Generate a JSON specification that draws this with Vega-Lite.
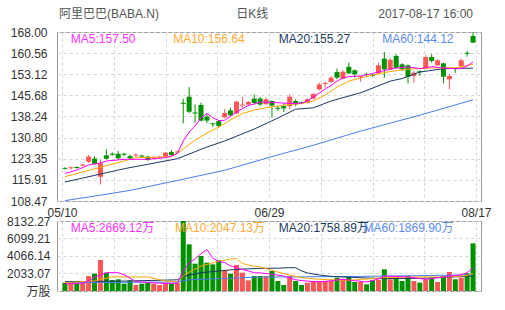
{
  "$schema": "https://vega.github.io/schema/vega-lite/v6.json",
  "padding": 0,
  "spacing": 20,
  "bounds": "flush",
  "background": "white",
  "datasets": {
    "k": [
      {"i":0,"d":"2017-05-10","o":120.1,"h":120.4,"l":119.6,"c":119.8,"v":964},
      {"i":1,"d":"2017-05-11","o":120.0,"h":120.6,"l":119.4,"c":120.35,"v":848},
      {"i":2,"d":"2017-05-12","o":120.45,"h":120.7,"l":119.9,"c":120.1,"v":848},
      {"i":3,"d":"2017-05-15","o":120.95,"h":121.6,"l":120.7,"c":121.3,"v":964},
      {"i":4,"d":"2017-05-16","o":122.3,"h":124.7,"l":121.9,"c":124.1,"v":1743},
      {"i":5,"d":"2017-05-17","o":123.4,"h":124.3,"l":121.3,"c":121.6,"v":2014},
      {"i":6,"d":"2017-05-18","o":117.0,"h":122.9,"l":114.3,"c":121.75,"v":3602},
      {"i":7,"d":"2017-05-19","o":124.55,"h":126.7,"l":123.1,"c":123.35,"v":2130},
      {"i":8,"d":"2017-05-22","o":125.15,"h":125.6,"l":124.4,"c":124.8,"v":1278},
      {"i":9,"d":"2017-05-23","o":125.1,"h":126.1,"l":123.2,"c":123.5,"v":1356},
      {"i":10,"d":"2017-05-24","o":125.1,"h":125.5,"l":124.3,"c":124.75,"v":848},
      {"i":11,"d":"2017-05-25","o":124.3,"h":124.8,"l":123.2,"c":123.5,"v":1240},
      {"i":12,"d":"2017-05-26","o":124.4,"h":125.3,"l":124.0,"c":124.75,"v":697},
      {"i":13,"d":"2017-05-30","o":124.45,"h":124.8,"l":123.8,"c":124.1,"v":848},
      {"i":14,"d":"2017-05-31","o":124.1,"h":124.4,"l":122.6,"c":122.9,"v":964},
      {"i":15,"d":"2017-06-01","o":123.55,"h":124.1,"l":123.3,"c":123.9,"v":848},
      {"i":16,"d":"2017-06-02","o":123.8,"h":124.4,"l":123.6,"c":124.15,"v":697},
      {"i":17,"d":"2017-06-05","o":124.05,"h":125.8,"l":123.9,"c":125.5,"v":964},
      {"i":18,"d":"2017-06-06","o":125.7,"h":126.4,"l":124.4,"c":124.65,"v":848},
      {"i":19,"d":"2017-06-07","o":125.55,"h":126.2,"l":125.3,"c":125.9,"v":964},
      {"i":20,"d":"2017-06-08","o":143.05,"h":144.5,"l":135.8,"c":142.7,"v":8132},
      {"i":21,"d":"2017-06-09","o":145.2,"h":148.6,"l":139.4,"c":139.9,"v":5422},
      {"i":22,"d":"2017-06-12","o":139.65,"h":142.5,"l":136.0,"c":139.3,"v":3175},
      {"i":23,"d":"2017-06-13","o":142.3,"h":143.1,"l":136.5,"c":136.8,"v":4066},
      {"i":24,"d":"2017-06-14","o":138.2,"h":139.2,"l":135.9,"c":136.8,"v":3292},
      {"i":25,"d":"2017-06-15","o":135.85,"h":136.0,"l":134.6,"c":135.5,"v":3098},
      {"i":26,"d":"2017-06-16","o":136.6,"h":137.0,"l":134.3,"c":134.9,"v":3563},
      {"i":27,"d":"2017-06-19","o":137.95,"h":140.8,"l":137.7,"c":139.45,"v":2440},
      {"i":28,"d":"2017-06-20","o":140.4,"h":141.3,"l":138.4,"c":138.65,"v":2014},
      {"i":29,"d":"2017-06-21","o":139.35,"h":143.7,"l":139.1,"c":143.45,"v":3021},
      {"i":30,"d":"2017-06-22","o":142.1,"h":145.1,"l":141.3,"c":142.45,"v":2130},
      {"i":31,"d":"2017-06-23","o":142.45,"h":143.7,"l":142.2,"c":143.35,"v":1240},
      {"i":32,"d":"2017-06-26","o":144.55,"h":146.0,"l":142.5,"c":143.0,"v":1743},
      {"i":33,"d":"2017-06-27","o":144.55,"h":145.1,"l":141.9,"c":142.45,"v":1743},
      {"i":34,"d":"2017-06-28","o":142.6,"h":144.85,"l":142.3,"c":144.3,"v":1743},
      {"i":35,"d":"2017-06-29","o":143.7,"h":144.0,"l":137.8,"c":142.1,"v":2324},
      {"i":36,"d":"2017-06-30","o":141.3,"h":142.0,"l":140.2,"c":140.95,"v":1162},
      {"i":37,"d":"2017-07-03","o":141.9,"h":142.9,"l":139.8,"c":141.1,"v":697},
      {"i":38,"d":"2017-07-05","o":141.9,"h":146.05,"l":140.8,"c":145.2,"v":1743},
      {"i":39,"d":"2017-07-06","o":143.7,"h":144.3,"l":141.9,"c":142.5,"v":1162},
      {"i":40,"d":"2017-07-07","o":143.25,"h":143.5,"l":142.6,"c":142.9,"v":697},
      {"i":41,"d":"2017-07-10","o":143.1,"h":144.6,"l":142.8,"c":144.3,"v":968},
      {"i":42,"d":"2017-07-11","o":144.55,"h":146.6,"l":144.3,"c":146.15,"v":1162},
      {"i":43,"d":"2017-07-12","o":147.8,"h":150.15,"l":147.45,"c":149.55,"v":1162},
      {"i":44,"d":"2017-07-13","o":149.75,"h":150.4,"l":148.4,"c":150.1,"v":1162},
      {"i":45,"d":"2017-07-14","o":150.4,"h":152.5,"l":150.15,"c":151.9,"v":1162},
      {"i":46,"d":"2017-07-17","o":153.9,"h":155.1,"l":151.35,"c":151.9,"v":1549},
      {"i":47,"d":"2017-07-18","o":151.55,"h":154.5,"l":151.35,"c":154.0,"v":1433},
      {"i":48,"d":"2017-07-19","o":155.75,"h":157.2,"l":153.1,"c":153.45,"v":1627},
      {"i":49,"d":"2017-07-20","o":154.5,"h":154.85,"l":151.9,"c":153.1,"v":1046},
      {"i":50,"d":"2017-07-21","o":152.05,"h":152.5,"l":150.5,"c":152.4,"v":1046},
      {"i":51,"d":"2017-07-24","o":153.25,"h":153.65,"l":152.25,"c":152.9,"v":775},
      {"i":52,"d":"2017-07-25","o":152.95,"h":153.2,"l":152.2,"c":152.6,"v":1240},
      {"i":53,"d":"2017-07-26","o":153.45,"h":157.2,"l":153.1,"c":156.25,"v":1300},
      {"i":54,"d":"2017-07-27","o":158.6,"h":160.95,"l":151.9,"c":154.85,"v":2518},
      {"i":55,"d":"2017-07-28","o":154.85,"h":158.85,"l":154.6,"c":158.15,"v":1356},
      {"i":56,"d":"2017-07-31","o":159.55,"h":160.15,"l":154.95,"c":155.4,"v":1549},
      {"i":57,"d":"2017-08-01","o":156.6,"h":157.0,"l":154.25,"c":154.85,"v":1162},
      {"i":58,"d":"2017-08-02","o":156.25,"h":156.6,"l":149.9,"c":152.25,"v":1743},
      {"i":59,"d":"2017-08-03","o":152.5,"h":154.25,"l":150.15,"c":153.65,"v":1162},
      {"i":60,"d":"2017-08-04","o":154.2,"h":154.5,"l":152.5,"c":153.85,"v":968},
      {"i":61,"d":"2017-08-07","o":155.2,"h":159.8,"l":154.85,"c":159.2,"v":1356},
      {"i":62,"d":"2017-08-08","o":159.2,"h":160.15,"l":157.2,"c":157.8,"v":1549},
      {"i":63,"d":"2017-08-09","o":156.25,"h":158.4,"l":156.0,"c":158.05,"v":1046},
      {"i":64,"d":"2017-08-10","o":156.95,"h":157.2,"l":149.9,"c":152.25,"v":1743},
      {"i":65,"d":"2017-08-11","o":151.35,"h":153.1,"l":147.8,"c":152.5,"v":2208},
      {"i":66,"d":"2017-08-14","o":155.25,"h":155.5,"l":153.6,"c":154.9,"v":1356},
      {"i":67,"d":"2017-08-15","o":156.0,"h":158.7,"l":154.85,"c":158.05,"v":1549},
      {"i":68,"d":"2017-08-16","o":160.65,"h":161.3,"l":159.3,"c":160.3,"v":2053},
      {"i":69,"d":"2017-08-17","o":166.6,"h":168.0,"l":164.2,"c":164.25,"v":5538}
    ],
    "pma": [
      {"s":"MA60","i":0,"m":108.6},{"s":"MA60","i":5,"m":110.2},{"s":"MA60","i":11,"m":112.2},{"s":"MA60","i":19,"m":115.7},{"s":"MA60","i":27,"m":119.3},{"s":"MA60","i":36,"m":124.7},{"s":"MA60","i":42,"m":128.1},{"s":"MA60","i":50,"m":133.1},{"s":"MA60","i":60,"m":138.7},{"s":"MA60","i":69,"m":144.12},
      {"s":"MA20","i":0,"m":115.15},{"s":"MA20","i":10,"m":119.84},{"s":"MA20","i":19,"m":123.36},{"s":"MA20","i":24,"m":127.48},{"s":"MA20","i":27,"m":129.6},{"s":"MA20","i":32,"m":133.8},{"s":"MA20","i":36,"m":137.7},{"s":"MA20","i":39,"m":140.8},{"s":"MA20","i":42,"m":141.3},{"s":"MA20","i":45,"m":143.7},{"s":"MA20","i":50,"m":146.6},{"s":"MA20","i":55,"m":150.7},{"s":"MA20","i":57,"m":151.6},{"s":"MA20","i":60,"m":153.9},{"s":"MA20","i":64,"m":155.07},{"s":"MA20","i":69,"m":155.27},
      {"s":"MA10","i":0,"m":117.02},{"s":"MA10","i":5,"m":119.8},{"s":"MA10","i":10,"m":122.55},{"s":"MA10","i":12,"m":123.72},{"s":"MA10","i":18,"m":124.07},{"s":"MA10","i":19,"m":125.37},{"s":"MA10","i":20,"m":126.8},{"s":"MA10","i":22,"m":129.9},{"s":"MA10","i":24,"m":132.4},{"s":"MA10","i":26,"m":134.5},{"s":"MA10","i":28,"m":137.0},{"s":"MA10","i":30,"m":139.3},{"s":"MA10","i":32,"m":140.5},{"s":"MA10","i":34,"m":141.3},{"s":"MA10","i":36,"m":141.9},{"s":"MA10","i":38,"m":142.5},{"s":"MA10","i":40,"m":142.8},{"s":"MA10","i":42,"m":143.7},{"s":"MA10","i":44,"m":145.8},{"s":"MA10","i":46,"m":148.6},{"s":"MA10","i":48,"m":150.7},{"s":"MA10","i":50,"m":151.8},{"s":"MA10","i":52,"m":152.8},{"s":"MA10","i":54,"m":153.7},{"s":"MA10","i":56,"m":154.4},{"s":"MA10","i":58,"m":154.9},{"s":"MA10","i":60,"m":155.1},{"s":"MA10","i":62,"m":155.3},{"s":"MA10","i":64,"m":155.42},{"s":"MA10","i":66,"m":155.42},{"s":"MA10","i":67,"m":155.7},{"s":"MA10","i":68,"m":156.2},{"s":"MA10","i":69,"m":156.64},
      {"s":"MA5","i":0,"m":118.15},{"s":"MA5","i":2,"m":119.38},{"s":"MA5","i":4,"m":121.14},{"s":"MA5","i":6,"m":121.85},{"s":"MA5","i":7,"m":122.55},{"s":"MA5","i":10,"m":123.15},{"s":"MA5","i":14,"m":123.15},{"s":"MA5","i":17,"m":123.72},{"s":"MA5","i":18,"m":124.31},{"s":"MA5","i":19,"m":125.2},{"s":"MA5","i":20,"m":129.6},{"s":"MA5","i":21,"m":132.77},{"s":"MA5","i":22,"m":134.88},{"s":"MA5","i":23,"m":137.7},{"s":"MA5","i":24,"m":139.3},{"s":"MA5","i":25,"m":137.8},{"s":"MA5","i":26,"m":136.8},{"s":"MA5","i":27,"m":136.9},{"s":"MA5","i":28,"m":138.4},{"s":"MA5","i":29,"m":139.8},{"s":"MA5","i":30,"m":141.0},{"s":"MA5","i":31,"m":142.1},{"s":"MA5","i":32,"m":142.6},{"s":"MA5","i":33,"m":143.3},{"s":"MA5","i":34,"m":143.3},{"s":"MA5","i":35,"m":143.2},{"s":"MA5","i":36,"m":143.1},{"s":"MA5","i":38,"m":142.8},{"s":"MA5","i":40,"m":142.9},{"s":"MA5","i":41,"m":143.7},{"s":"MA5","i":42,"m":145.1},{"s":"MA5","i":43,"m":146.5},{"s":"MA5","i":44,"m":147.9},{"s":"MA5","i":45,"m":149.2},{"s":"MA5","i":46,"m":150.7},{"s":"MA5","i":47,"m":151.8},{"s":"MA5","i":48,"m":152.3},{"s":"MA5","i":50,"m":152.5},{"s":"MA5","i":52,"m":153.4},{"s":"MA5","i":54,"m":154.4},{"s":"MA5","i":56,"m":155.3},{"s":"MA5","i":58,"m":155.7},{"s":"MA5","i":60,"m":155.1},{"s":"MA5","i":62,"m":155.8},{"s":"MA5","i":64,"m":155.3},{"s":"MA5","i":66,"m":155.1},{"s":"MA5","i":67,"m":155.1},{"s":"MA5","i":68,"m":156.0},{"s":"MA5","i":69,"m":157.5}
    ],
    "vma": [
      {"s":"MA60","i":0,"m":968},{"s":"MA60","i":19,"m":1046},{"s":"MA60","i":20,"m":1180},{"s":"MA60","i":21,"m":1300},{"s":"MA60","i":32,"m":1600},{"s":"MA60","i":50,"m":1700},{"s":"MA60","i":69,"m":1870},
      {"s":"MA20","i":0,"m":1085},{"s":"MA20","i":10,"m":1150},{"s":"MA20","i":19,"m":1300},{"s":"MA20","i":20,"m":1700},{"s":"MA20","i":23,"m":2130},{"s":"MA20","i":29,"m":2518},{"s":"MA20","i":33,"m":2634},{"s":"MA20","i":36,"m":2650},{"s":"MA20","i":38,"m":2712},{"s":"MA20","i":39,"m":2700},{"s":"MA20","i":40,"m":2330},{"s":"MA20","i":41,"m":2100},{"s":"MA20","i":43,"m":1859},{"s":"MA20","i":45,"m":1700},{"s":"MA20","i":48,"m":1600},{"s":"MA20","i":54,"m":1433},{"s":"MA20","i":60,"m":1480},{"s":"MA20","i":65,"m":1600},{"s":"MA20","i":69,"m":1759},
      {"s":"MA10","i":0,"m":968},{"s":"MA10","i":5,"m":1162},{"s":"MA10","i":8,"m":1650},{"s":"MA10","i":14,"m":1627},{"s":"MA10","i":17,"m":1162},{"s":"MA10","i":19,"m":1046},{"s":"MA10","i":20,"m":1750},{"s":"MA10","i":21,"m":2200},{"s":"MA10","i":23,"m":2905},{"s":"MA10","i":26,"m":3450},{"s":"MA10","i":28,"m":3700},{"s":"MA10","i":29,"m":3796},{"s":"MA10","i":30,"m":3200},{"s":"MA10","i":31,"m":3000},{"s":"MA10","i":33,"m":2800},{"s":"MA10","i":35,"m":2400},{"s":"MA10","i":37,"m":2014},{"s":"MA10","i":40,"m":1549},{"s":"MA10","i":43,"m":1356},{"s":"MA10","i":48,"m":1240},{"s":"MA10","i":54,"m":1549},{"s":"MA10","i":59,"m":1627},{"s":"MA10","i":65,"m":1627},{"s":"MA10","i":68,"m":1800},{"s":"MA10","i":69,"m":2047},
      {"s":"MA5","i":0,"m":848},{"s":"MA5","i":3,"m":900},{"s":"MA5","i":4,"m":1162},{"s":"MA5","i":5,"m":1600},{"s":"MA5","i":7,"m":2130},{"s":"MA5","i":9,"m":2130},{"s":"MA5","i":10,"m":1900},{"s":"MA5","i":11,"m":1500},{"s":"MA5","i":12,"m":1085},{"s":"MA5","i":14,"m":1000},{"s":"MA5","i":16,"m":900},{"s":"MA5","i":18,"m":880},{"s":"MA5","i":19,"m":900},{"s":"MA5","i":20,"m":2321},{"s":"MA5","i":21,"m":3266},{"s":"MA5","i":22,"m":3708},{"s":"MA5","i":23,"m":4352},{"s":"MA5","i":24,"m":4817},{"s":"MA5","i":25,"m":3811},{"s":"MA5","i":26,"m":3439},{"s":"MA5","i":27,"m":3300},{"s":"MA5","i":28,"m":2905},{"s":"MA5","i":29,"m":2700},{"s":"MA5","i":30,"m":2500},{"s":"MA5","i":31,"m":2324},{"s":"MA5","i":32,"m":2130},{"s":"MA5","i":33,"m":2100},{"s":"MA5","i":35,"m":1937},{"s":"MA5","i":37,"m":1743},{"s":"MA5","i":39,"m":1300},{"s":"MA5","i":41,"m":1150},{"s":"MA5","i":43,"m":1046},{"s":"MA5","i":45,"m":1200},{"s":"MA5","i":47,"m":1356},{"s":"MA5","i":49,"m":1200},{"s":"MA5","i":51,"m":1046},{"s":"MA5","i":53,"m":1400},{"s":"MA5","i":54,"m":1743},{"s":"MA5","i":58,"m":1627},{"s":"MA5","i":61,"m":1356},{"s":"MA5","i":64,"m":1627},{"s":"MA5","i":67,"m":1900},{"s":"MA5","i":68,"m":2130},{"s":"MA5","i":69,"m":2669}
    ],
    "one": [{}]
  },
  "vconcat": [
    {
      "width": 424,
      "height": 169,
      "resolve": {"axis": {"x": "independent", "y": "independent"}},
      "layer": [
        {
          "data": {"name": "k"},
          "mark": {"type": "rule", "strokeWidth": 1},
          "encoding": {
            "x": {"field": "i", "type": "quantitative", "title": null,
              "scale": {"domain": [-0.5, 69.5], "nice": false, "zero": false},
              "axis": {"orient": "bottom", "values": [-0.5, 8.25, 17, 25.75, 34.5, 43.25, 52, 60.75, 69.5],
                "labelExpr": "datum.value == -0.5 ? '05/10' : datum.value == 34.5 ? '06/29' : datum.value == 69.5 ? '08/17' : ''",
                "labelFlush": true, "labelOverlap": false, "grid": true, "labelPadding": 6, "minExtent": 20, "maxExtent": 20}},
            "y": {"field": "l", "type": "quantitative", "title": null,
              "scale": {"domain": [108.47, 168], "nice": false, "zero": false},
              "axis": {"values": [108.47, 115.91, 123.35, 130.8, 138.24, 145.68, 153.12, 160.56, 168.0], "format": ".2f",
                "grid": true, "labelPadding": 10, "minExtent": 56, "maxExtent": 56, "labelOverlap": false}},
            "y2": {"field": "h"},
            "color": {"condition": {"test": "datum.c >= datum.o", "value": "#ff5555"}, "value": "#009100"}
          }
        },
        {
          "data": {"name": "k"},
          "mark": {"type": "bar", "size": 5},
          "encoding": {
            "x": {"field": "i", "type": "quantitative", "title": null, "axis": null,
              "scale": {"domain": [-0.5, 69.5], "nice": false, "zero": false}},
            "y": {"field": "o", "type": "quantitative", "title": null, "axis": null,
              "scale": {"domain": [108.47, 168], "nice": false, "zero": false}},
            "y2": {"field": "c"},
            "color": {"condition": {"test": "datum.c >= datum.o", "value": "#ff5555"}, "value": "#009100"}
          }
        },
        {
          "data": {"name": "pma"},
          "mark": {"type": "line", "strokeWidth": 1},
          "encoding": {
            "x": {"field": "i", "type": "quantitative", "title": null,
              "scale": {"domain": [-0.5, 69.5], "nice": false, "zero": false},
              "axis": {"orient": "top", "values": [7.35, 31.6, 60.9],
                "labelExpr": "datum.value < 20 ? '阿里巴巴(BABA.N)' : datum.value < 50 ? '日K线' : '2017-08-17 16:00'",
                "labelFlush": false, "labelOverlap": false, "grid": false, "labelPadding": 12, "labelColor": "#555555",
                "minExtent": 31, "maxExtent": 31}},
            "y": {"field": "m", "type": "quantitative", "title": null, "axis": null,
              "scale": {"domain": [108.47, 168], "nice": false, "zero": false}},
            "color": {"field": "s", "type": "nominal", "legend": null,
              "scale": {"domain": ["MA5", "MA10", "MA20", "MA60"], "range": ["#ff00ff", "#ffa500", "#1a3a60", "#4a7ef2"]}},
            "order": {"field": "i", "type": "quantitative"}
          }
        },
        {
          "data": {"name": "one"},
          "mark": {"type": "text", "align": "left", "baseline": "middle", "fontSize": 12, "color": "#ff33ff"},
          "encoding": {
            "x": {"datum": 0.99, "type": "quantitative", "axis": null, "scale": {"domain": [-0.5, 69.5], "nice": false, "zero": false}},
            "y": {"datum": 165.7, "type": "quantitative", "axis": null, "scale": {"domain": [108.47, 168], "nice": false, "zero": false}},
            "text": {"value": "MA5:157.50"}
          }
        },
        {
          "data": {"name": "one"},
          "mark": {"type": "text", "align": "left", "baseline": "middle", "fontSize": 12, "color": "#ffaa33"},
          "encoding": {
            "x": {"datum": 18.3, "type": "quantitative", "axis": null, "scale": {"domain": [-0.5, 69.5], "nice": false, "zero": false}},
            "y": {"datum": 165.7, "type": "quantitative", "axis": null, "scale": {"domain": [108.47, 168], "nice": false, "zero": false}},
            "text": {"value": "MA10:156.64"}
          }
        },
        {
          "data": {"name": "one"},
          "mark": {"type": "text", "align": "left", "baseline": "middle", "fontSize": 12, "color": "#1a3a60"},
          "encoding": {
            "x": {"datum": 36.15, "type": "quantitative", "axis": null, "scale": {"domain": [-0.5, 69.5], "nice": false, "zero": false}},
            "y": {"datum": 165.7, "type": "quantitative", "axis": null, "scale": {"domain": [108.47, 168], "nice": false, "zero": false}},
            "text": {"value": "MA20:155.27"}
          }
        },
        {
          "data": {"name": "one"},
          "mark": {"type": "text", "align": "right", "baseline": "middle", "fontSize": 12, "color": "#5b8cf2"},
          "encoding": {
            "x": {"datum": 65.7, "type": "quantitative", "axis": null, "scale": {"domain": [-0.5, 69.5], "nice": false, "zero": false}},
            "y": {"datum": 165.7, "type": "quantitative", "axis": null, "scale": {"domain": [108.47, 168], "nice": false, "zero": false}},
            "text": {"value": "MA60:144.12"}
          }
        }
      ]
    },
    {
      "width": 424,
      "height": 70,
      "resolve": {"axis": {"x": "independent", "y": "independent"}},
      "layer": [
        {
          "data": {"name": "k"},
          "mark": {"type": "bar", "size": 5},
          "encoding": {
            "x": {"field": "i", "type": "quantitative", "title": null,
              "scale": {"domain": [-0.5, 69.5], "nice": false, "zero": false},
              "axis": {"values": [-0.5, 8.25, 17, 25.75, 34.5, 43.25, 52, 60.75, 69.5], "labels": false, "grid": true, "minExtent": 0, "maxExtent": 0}},
            "y": {"field": "v", "type": "quantitative", "title": null,
              "scale": {"domain": [0, 8132.27], "nice": false},
              "axis": {"values": [0, 2033.07, 4066.14, 6099.21, 8132.27],
                "labelExpr": "datum.value == 0 ? '万股' : format(datum.value, '.2f')",
                "grid": true, "labelPadding": 7, "minExtent": 56, "maxExtent": 56, "labelOverlap": false}},
            "color": {"condition": {"test": "datum.c >= datum.o", "value": "#ff5555"}, "value": "#009100"}
          }
        },
        {
          "data": {"name": "vma"},
          "mark": {"type": "line", "strokeWidth": 1},
          "encoding": {
            "x": {"field": "i", "type": "quantitative", "title": null, "axis": null,
              "scale": {"domain": [-0.5, 69.5], "nice": false, "zero": false}},
            "y": {"field": "m", "type": "quantitative", "title": null, "axis": null,
              "scale": {"domain": [0, 8132.27], "nice": false}},
            "color": {"field": "s", "type": "nominal", "legend": null,
              "scale": {"domain": ["MA5", "MA10", "MA20", "MA60"], "range": ["#ff00ff", "#ffa500", "#1a3a60", "#4a7ef2"]}},
            "order": {"field": "i", "type": "quantitative"}
          }
        },
        {
          "data": {"name": "one"},
          "mark": {"type": "text", "align": "left", "baseline": "middle", "fontSize": 12, "color": "#ff33ff"},
          "encoding": {
            "x": {"datum": 0.99, "type": "quantitative", "axis": null, "scale": {"domain": [-0.5, 69.5], "nice": false, "zero": false}},
            "y": {"datum": 7261, "type": "quantitative", "axis": null, "scale": {"domain": [0, 8132.27], "nice": false}},
            "text": {"value": "MA5:2669.12万"}
          }
        },
        {
          "data": {"name": "one"},
          "mark": {"type": "text", "align": "left", "baseline": "middle", "fontSize": 12, "color": "#ffaa33"},
          "encoding": {
            "x": {"datum": 18.6, "type": "quantitative", "axis": null, "scale": {"domain": [-0.5, 69.5], "nice": false, "zero": false}},
            "y": {"datum": 7261, "type": "quantitative", "axis": null, "scale": {"domain": [0, 8132.27], "nice": false}},
            "text": {"value": "MA10:2047.13万"}
          }
        },
        {
          "data": {"name": "one"},
          "mark": {"type": "text", "align": "left", "baseline": "middle", "fontSize": 12, "color": "#1a3a60"},
          "encoding": {
            "x": {"datum": 36.15, "type": "quantitative", "axis": null, "scale": {"domain": [-0.5, 69.5], "nice": false, "zero": false}},
            "y": {"datum": 7261, "type": "quantitative", "axis": null, "scale": {"domain": [0, 8132.27], "nice": false}},
            "text": {"value": "MA20:1758.89万"}
          }
        },
        {
          "data": {"name": "one"},
          "mark": {"type": "text", "align": "right", "baseline": "middle", "fontSize": 12, "color": "#5b8cf2"},
          "encoding": {
            "x": {"datum": 65.7, "type": "quantitative", "axis": null, "scale": {"domain": [-0.5, 69.5], "nice": false, "zero": false}},
            "y": {"datum": 7261, "type": "quantitative", "axis": null, "scale": {"domain": [0, 8132.27], "nice": false}},
            "text": {"value": "MA60:1869.90万"}
          }
        }
      ]
    }
  ],
  "config": {
    "font": "Liberation Sans, Noto Sans CJK SC, sans-serif",
    "view": {"stroke": "#999999", "strokeWidth": 1},
    "text": {"font": "Liberation Sans, Noto Sans CJK SC, sans-serif", "fontSize": 12},
    "axis": {
      "labelFont": "Liberation Sans, Noto Sans CJK SC, sans-serif",
      "labelFontSize": 12,
      "labelColor": "#333333",
      "labelOverlap": false,
      "gridColor": "#d6d6d6",
      "gridDash": [3, 3],
      "gridWidth": 1,
      "domain": false,
      "ticks": false
    }
  }
}
